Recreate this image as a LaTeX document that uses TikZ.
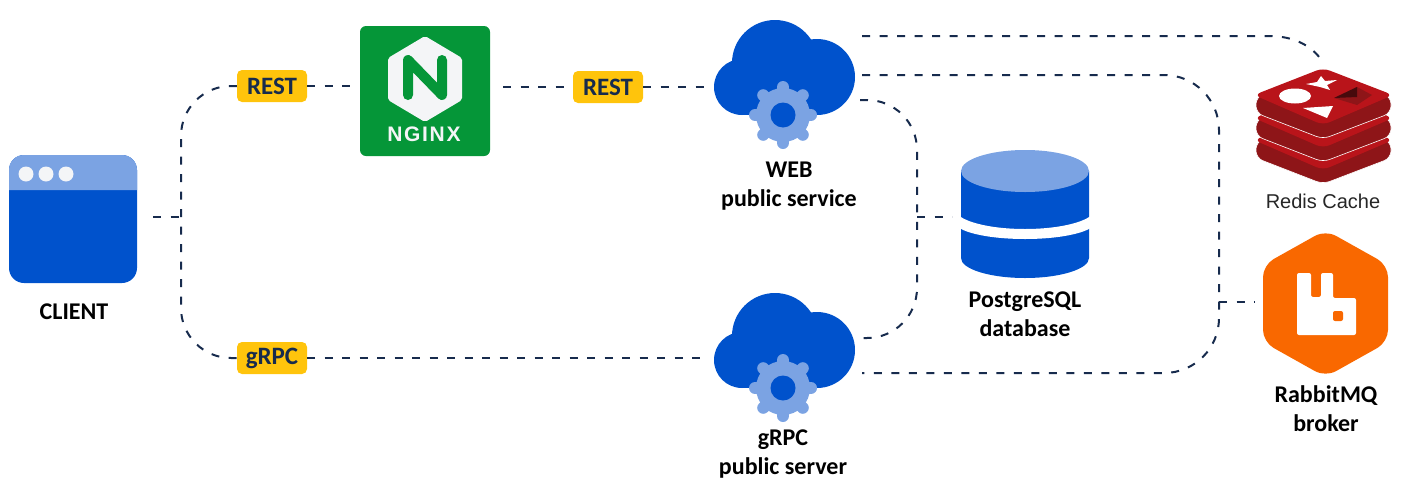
\documentclass[tikz,border=0pt]{standalone}
\usepackage{fontspec}
\setmainfont{Carlito}
\newfontfamily\arialfont{Liberation Sans}
\definecolor{atlblue}{HTML}{0052CC}
\definecolor{atllight}{HTML}{7BA3E3}
\definecolor{linkcol}{HTML}{172B4D}
\definecolor{tagcol}{HTML}{FFC40C}
\definecolor{nginxgreen}{HTML}{059638}
\definecolor{rabbitorange}{HTML}{F96800}
\definecolor{redislight}{HTML}{B9141A}
\definecolor{redisdark}{HTML}{8E1518}
\definecolor{paper}{HTML}{F4F5F7}
\tikzset{
    link/.style={line width=2pt, linkcol, dash pattern=on 8pt off 9.5pt},
    tag/.style={fill=tagcol, rounded corners=5pt, minimum width=70pt, minimum height=32pt, inner sep=0pt,
        text=linkcol, font=\fontsize{25}{29}\selectfont\bfseries},
    caption/.style={align=center, font=\fontsize{24}{29}\selectfont\bfseries},
    iconbox/.style={minimum width=#1, minimum height=#1, inner sep=0pt},
    cloudgear/.pic={
        % cloud, origin in the middle of the gear
        \fill[atlblue] (-41,-28) circle[radius=28pt];
        \fill[atlblue] (-8,-52) circle[radius=43pt];
        \fill[atlblue] (34,-38) circle[radius=38pt];
        \fill[atlblue] (-41,-28) rectangle (34,0);
        \fill[atlblue] (-20,-60) rectangle (34,-10);
        % gear
        \fill[atllight] (0,0) circle[radius=27pt];
        \foreach \a in {0,45,...,315}
        {
            \draw[atllight, line width=12pt, line cap=round] (\a:20pt) -- (\a:28pt);
        }
        \fill[atlblue] (0,0) circle[radius=12.5pt];
    }
}
\newcommand{\redisplate}[1]{
    \fill[redisdark, draw=white, line width=0.6pt, rounded corners=7pt] (1256,#1+2) -- (1256,#1+18) -- (1323,#1+44) -- (1391,#1+18) -- (1391,#1+2) -- (1323,#1-25) -- cycle;
    \fill[redislight, rounded corners=7pt] (1254,#1) -- (1323,#1-27) -- (1393,#1) -- (1323,#1+30) -- cycle;
}
\begin{document}
\begin{tikzpicture}[x=1pt, y=-1pt]
    \useasboundingbox (0,0) rectangle (1414,501);

    % Client window
    \node[iconbox=128pt, fill=atlblue, rounded corners=15pt] (client) at (73,219) {};
    \fill[atllight] (9,190) [rounded corners=15pt] -- (9,155) -- (137,155) [sharp corners] -- (137,190) -- cycle;
    \foreach \x in {26,46,66}
    {
        \fill[paper] (\x,174) circle[radius=7.5pt];
    }
    \node[caption] (clientlabel) at (74,312) {CLIENT};

    % Nginx
    \node[iconbox=130pt, fill=nginxgreen, rounded corners=6pt] (nginx) at (425,91) {};
    \fill[paper, rounded corners=2pt] (425,36) -- (462,58) -- (462,100) -- (425,122) -- (388,100) -- (388,58) -- cycle;
    \draw[nginxgreen, line width=10pt, line cap=round, line join=round] (408,95) -- (408,60) -- (442,95) -- (442,60);
    \node[text=paper, font=\arialfont\fontsize{21}{21}\selectfont\bfseries\addfontfeature{LetterSpace=8}] (nginxtext) at (424,134) {NGINX};

    % Clouds
    \node[iconbox=140pt] (web) at (785,75) {};
    \pic at (783,115) {cloudgear};
    \node[caption] (weblabel) at (789,186) {WEB\\public service};
    \node[iconbox=140pt] (grpc) at (785,348) {};
    \pic at (783,388) {cloudgear};
    \node[caption] (grpclabel) at (783,454) {gRPC\\public server};

    % Database
    \node[iconbox=128pt] (db) at (1025,214) {};
    \fill[atlblue] (961,171) -- (961,258) arc[start angle=180, end angle=0, x radius=64, y radius=20] -- (1089,171) -- cycle;
    \fill[white] (955,209) arc[start angle=180, end angle=0, x radius=70, y radius=20] -- (1095,222) arc[start angle=0, end angle=180, x radius=70, y radius=17] -- cycle;
    \fill[atllight] (1025,171) ellipse[x radius=64pt, y radius=21pt];
    \node[caption] (dblabel) at (1025,314) {PostgreSQL\\database};

    % Redis
    \redisplate{140}
    \redisplate{118}
    \redisplate{95}
    \fill[white] (1295,96) ellipse[x radius=16pt, y radius=7.5pt];
    \fill[white] (1306,84) -- (1317,82) -- (1321,76) -- (1325,81) -- (1337,80) -- (1327,85) -- (1330,90) -- (1320,87) -- cycle;
    \fill[white] (1303,108) -- (1333,106) -- (1327,118) -- cycle;
    \fill[redisdark] (1334,98) -- (1357,87) -- (1372,95) -- (1357,105) -- cycle;
    \fill[black!50!redisdark] (1334,98) -- (1357,87) -- (1357,97) -- cycle;
    \node[iconbox=60pt] (redis) at (1323,95) {};
    \node[font=\arialfont\fontsize{20}{24}\selectfont, text=black!85] (redislabel) at (1323,201) {Redis Cache};

    % RabbitMQ
    \node[iconbox=125pt] (rabbit) at (1325,303) {};
    \fill[rabbitorange, rounded corners=12pt] (1325.5,230) -- (1388,265) -- (1388,342) -- (1325.5,377) -- (1263,342) -- (1263,265) -- cycle;
    \fill[white, rounded corners=2pt] (1297,273) -- (1311,273) -- (1311,297) -- (1321,297) -- (1321,273) -- (1333,273) -- (1333,298) -- (1356,298) -- (1356,335) -- (1297,335) -- cycle;
    \fill[rabbitorange, rounded corners=2pt] (1333,311) rectangle (1343,321);
    \node[caption] (rabbitlabel) at (1326,409) {RabbitMQ\\broker};

    % Tags
    \node[tag] (rest1) at (272,86) {REST};
    \node[tag] (rest2) at (608,87) {REST};
    \node[tag] (grpctag) at (272,358) {gRPC};

    % Free ends of the links
    \coordinate (clientout) at (153,217);
    \coordinate (trunk) at (181,217);
    \coordinate (nginxin) at (350,86);
    \coordinate (nginxout) at (503,87);
    \coordinate (webin) at (705,87);
    \coordinate (grpcin) at (705,358);
    \coordinate (webout1) at (862,36);
    \coordinate (webout2) at (862,75);
    \coordinate (webout3) at (860,100);
    \coordinate (grpcout1) at (860,338);
    \coordinate (grpcout2) at (862,373);
    \coordinate (dbin) at (952,217);
    \coordinate (rabbitin) at (1255,302);
    \coordinate (redisin) at (1323,62);

    % Links
    \draw[link] (clientout) -- (trunk);
    \draw[link, rounded corners=50pt] (rest1.west) -- (181,86) -- (181,358) -- (grpctag.west);
    \draw[link] (rest1.east) -- (nginxin);
    \draw[link] (nginxout) -- (rest2.west);
    \draw[link] (rest2.east) -- (webin);
    \draw[link] (grpctag.east) -- (grpcin);
    \draw[link] (webout1) -- (1268,36) .. controls (1295,36) and (1312,46) .. (redisin);
    \draw[link, rounded corners=55pt] (webout2) -- (1219,75) -- (1219,373) -- (grpcout2);
    \draw[link, rounded corners=50pt] (webout3) -- (917,100) -- (917,338) -- (grpcout1);
    \draw[link] (917,217) -- (dbin);
    \draw[link] (1219,302) -- (rabbitin);
\end{tikzpicture}
\end{document}
